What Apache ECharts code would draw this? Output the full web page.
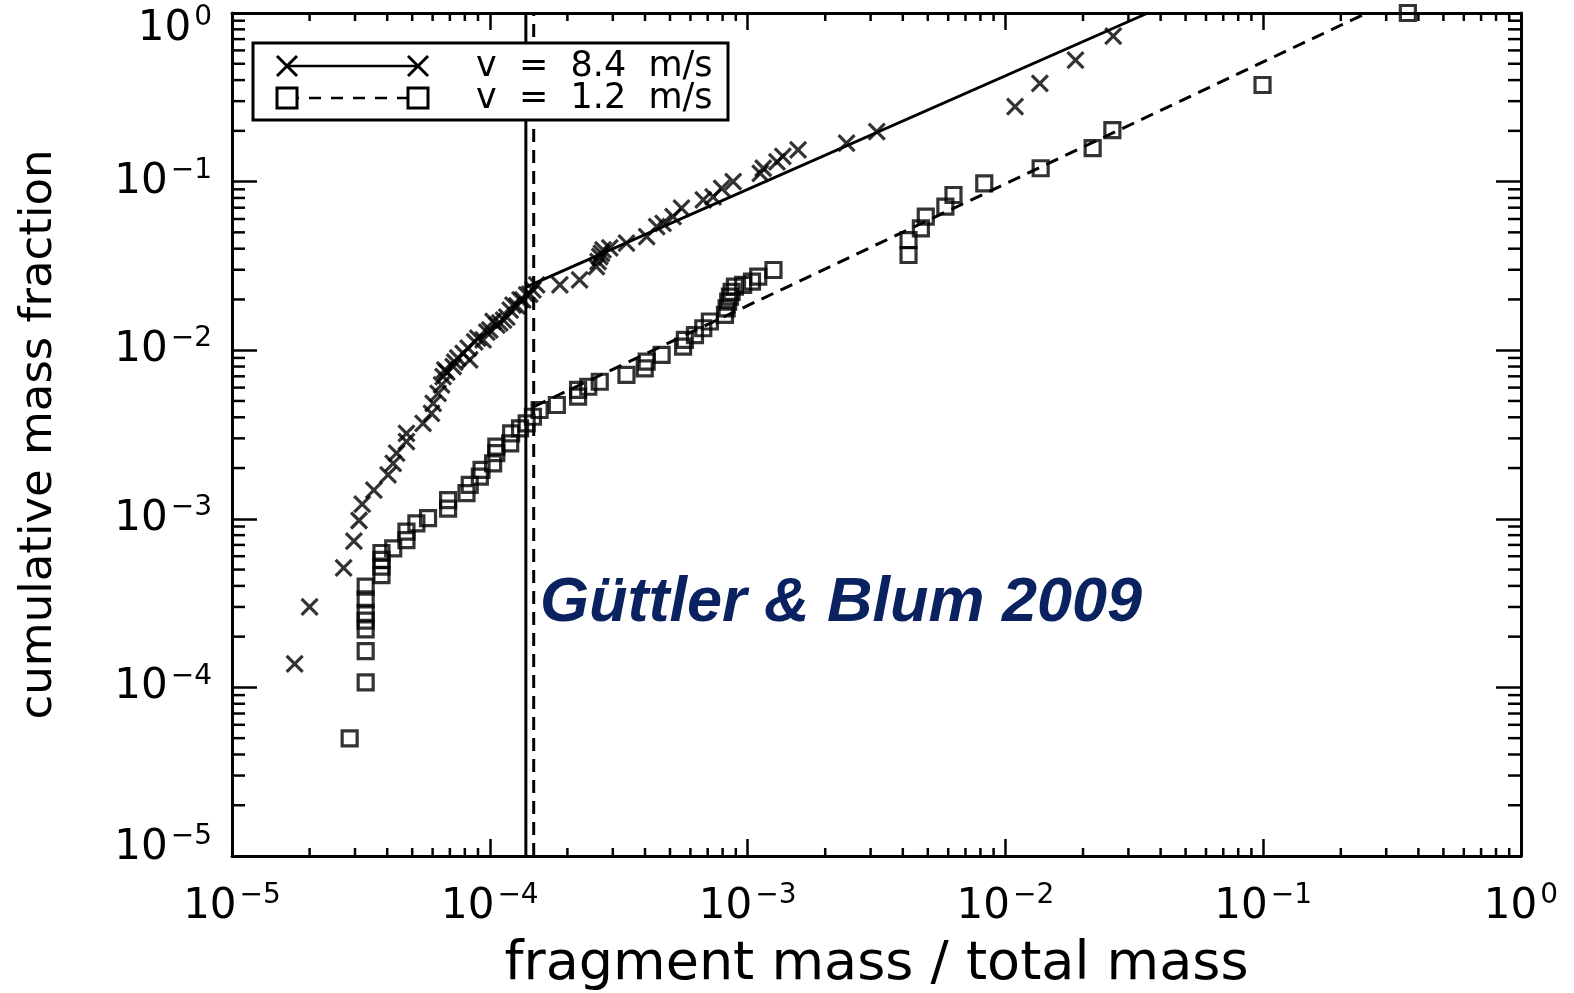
<!DOCTYPE html>
<html><head><meta charset="utf-8">
<script src="https://cdn.jsdelivr.net/npm/echarts@6/dist/echarts.min.js"></script>
<style>html,body{margin:0;padding:0;background:#fff}#chart{width:1574px;height:993px}</style>
</head><body><div id="chart"></div>
<script>
// ---- data ----
const v84Points = [
  [1.75e-5, 1.38e-4], [2.00e-5, 3.00e-4], [2.71e-5, 5.11e-4], [2.97e-5, 7.38e-4],
  [3.11e-5, 9.77e-4], [3.20e-5, 1.22e-3], [3.55e-5, 1.48e-3], [4.03e-5, 1.82e-3],
  [4.22e-5, 2.13e-3], [4.35e-5, 2.45e-3], [4.75e-5, 2.87e-3], [4.75e-5, 3.21e-3],
  [5.51e-5, 3.68e-3], [5.94e-5, 4.22e-3], [6.03e-5, 4.84e-3], [6.30e-5, 5.55e-3],
  [6.50e-5, 6.22e-3], [6.59e-5, 6.97e-3], [6.69e-5, 7.63e-3], [6.81e-5, 7.42e-3],
  [7.21e-5, 7.98e-3], [7.31e-5, 8.51e-3], [7.51e-5, 8.99e-3], [7.88e-5, 9.59e-3],
  [8.24e-5, 1.03e-2], [8.36e-5, 8.75e-3], [8.74e-5, 1.12e-2], [8.98e-5, 1.18e-2],
  [9.42e-5, 1.15e-2], [9.74e-5, 1.28e-2], [1.00e-4, 1.32e-2], [1.03e-4, 1.48e-2],
  [1.065e-4, 1.41e-2], [1.093e-4, 1.45e-2], [1.13e-4, 1.51e-2], [1.164e-4, 1.57e-2],
  [1.20e-4, 1.73e-2], [1.23e-4, 1.85e-2], [1.273e-4, 1.83e-2], [1.31e-4, 1.99e-2],
  [1.343e-4, 1.99e-2], [1.39e-4, 2.13e-2], [1.429e-4, 2.15e-2], [1.47e-4, 2.28e-2],
  [1.52e-4, 2.44e-2], [1.87e-4, 2.44e-2], [2.23e-4, 2.61e-2], [2.59e-4, 3.13e-2],
  [2.63e-4, 3.35e-2], [2.67e-4, 3.59e-2], [2.71e-4, 3.75e-2], [2.75e-4, 3.93e-2],
  [2.92e-4, 4.04e-2], [3.39e-4, 4.31e-2], [4.06e-4, 4.71e-2], [4.44e-4, 5.40e-2],
  [4.70e-4, 5.66e-2], [5.14e-4, 6.19e-2], [5.54e-4, 6.95e-2], [6.73e-4, 7.78e-2],
  [7.35e-4, 8.13e-2], [7.93e-4, 9.12e-2], [8.79e-4, 9.99e-2], [1.12e-3, 0.112],
  [1.15e-3, 0.120], [1.30e-3, 0.131], [1.37e-3, 0.141], [1.57e-3, 0.154],
  [2.42e-3, 0.169], [3.17e-3, 0.198], [1.09e-2, 0.278], [1.36e-2, 0.383],
  [1.87e-2, 0.526], [2.62e-2, 0.730]
];
const v12Points = [
  [2.86e-5, 4.99e-5], [3.30e-5, 1.07e-4], [3.30e-5, 1.64e-4], [3.30e-5, 2.21e-4],
  [3.30e-5, 2.49e-4], [3.30e-5, 2.77e-4], [3.30e-5, 3.33e-4], [3.30e-5, 3.96e-4],
  [3.80e-5, 4.64e-4], [3.80e-5, 5.20e-4], [3.80e-5, 5.70e-4], [3.80e-5, 6.27e-4],
  [4.22e-5, 6.68e-4], [4.75e-5, 7.48e-4], [4.75e-5, 8.39e-4], [5.19e-5, 9.40e-4],
  [5.76e-5, 1.01e-3], [6.89e-5, 1.15e-3], [6.89e-5, 1.29e-3], [8.12e-5, 1.42e-3],
  [8.36e-5, 1.59e-3], [9.15e-5, 1.78e-3], [9.29e-5, 1.95e-3], [1.03e-4, 2.13e-3],
  [1.06e-4, 2.45e-3], [1.06e-4, 2.68e-3], [1.20e-4, 2.80e-3], [1.21e-4, 3.21e-3],
  [1.31e-4, 3.44e-3], [1.39e-4, 3.68e-3], [1.47e-4, 4.03e-3], [1.56e-4, 4.42e-3],
  [1.82e-4, 4.73e-3], [2.20e-4, 5.30e-3], [2.20e-4, 5.81e-3], [2.41e-4, 6.07e-3],
  [2.67e-4, 6.50e-3], [3.39e-4, 7.13e-3], [3.99e-4, 7.81e-3], [4.06e-4, 8.55e-3],
  [4.64e-4, 9.37e-3], [5.62e-4, 1.05e-2], [5.71e-4, 1.15e-2], [6.25e-4, 1.23e-2],
  [6.73e-4, 1.35e-2], [7.14e-4, 1.48e-2], [8.17e-4, 1.62e-2], [8.29e-4, 1.77e-2],
  [8.41e-4, 1.94e-2], [8.54e-4, 2.08e-2], [8.67e-4, 2.22e-2], [8.93e-4, 2.38e-2],
  [9.61e-4, 2.44e-2], [1.04e-3, 2.55e-2], [1.10e-3, 2.73e-2], [1.26e-3, 2.99e-2],
  [4.21e-3, 3.67e-2], [4.21e-3, 4.50e-2], [4.70e-3, 5.28e-2], [4.91e-3, 6.19e-2],
  [5.85e-3, 7.10e-2], [6.29e-3, 8.33e-2], [8.28e-3, 9.77e-2], [1.37e-2, 0.120],
  [2.18e-2, 0.158], [2.60e-2, 0.202], [9.94e-2, 0.374], [0.364, 1.0]
];
const fit84Line = [[1.38e-4, 2.37e-2], [3.57e-2, 1.0]];
const fit12Line = [[1.48e-4, 4.62e-3], [0.252, 1.0]];
const breakV84 = 1.38e-4;
const breakV12 = 1.48e-4;
const axisMin = 1e-5;
const axisMax = 1;
const decadeExponents = [-5, -4, -3, -2, -1, 0];
const minorMultipliers = [2, 3, 4, 5, 6, 7, 8, 9];
const legendLabels = ['v = 8.4 m/s', 'v = 1.2 m/s'];
const xTitle = 'fragment mass / total mass';
const yTitle = 'cumulative mass fraction';
const annotationText = 'Güttler & Blum 2009';

// ---- derived ----
const minorTicks = decadeExponents.slice(0, -1).flatMap(e => minorMultipliers.map(m => m * Math.pow(10, e)));
const FONT = 'DejaVu Sans';
const crossPath = 'path://M0,0L10,10M10,0L0,10';

function expText(e) { return e < 0 ? '\u2212' + (-e) : String(e); }
function xLabel(v) {
  const e = Math.round(Math.log10(v));
  return '{b|10}{e|' + expText(e) + '}';
}
// y labels at the plot ends are pulled inward (as in the original)
function yLabel(v) {
  const e = Math.round(Math.log10(v));
  const top = decadeExponents[decadeExponents.length - 1], bottom = decadeExponents[0];
  if (e === top) return '{bt|10}{et|' + expText(e) + '}';
  if (e === bottom) return '{bb|10}{eb|' + expText(e) + '}';
  return '{b|10}{e|' + expText(e) + '}';
}
const baseB = { fontFamily: FONT, fontSize: 42, lineHeight: 50, color: '#000' };
const baseE = { fontFamily: FONT, fontSize: 28, lineHeight: 34, color: '#000' };
const labelRich = {
  b: Object.assign({}, baseB),
  e: Object.assign({}, baseE, { verticalAlign: 'top', padding: [0, 0, 0, 3] }),
  bt: Object.assign({}, baseB, { verticalAlign: 'top', padding: [20, 0, 0, 0] }),
  et: Object.assign({}, baseE, { verticalAlign: 'top', padding: [16, 0, 0, 3] }),
  bb: Object.assign({}, baseB, { verticalAlign: 'bottom', padding: [0, 0, 12, 0] }),
  eb: Object.assign({}, baseE, { verticalAlign: 'bottom', padding: [0, 0, 30, 3] })
};

function tickSeries(isX) {
  return {
    type: 'custom', xAxisIndex: 0, yAxisIndex: 0, silent: true, clip: false, z: 5,
    data: minorTicks.map(v => isX ? [v, axisMin] : [axisMin, v]),
    renderItem: function (params, api) {
      const st = { stroke: '#000', lineWidth: 2.5 };
      if (isX) {
        const v = api.value(0);
        const b = api.coord([v, axisMin]), t = api.coord([v, axisMax]);
        return { type: 'group', children: [
          { type: 'line', shape: { x1: b[0], y1: b[1], x2: b[0], y2: b[1] - 8 }, style: st },
          { type: 'line', shape: { x1: t[0], y1: t[1], x2: t[0], y2: t[1] + 8 }, style: st }
        ] };
      } else {
        const v = api.value(1);
        const l = api.coord([axisMin, v]), r = api.coord([axisMax, v]);
        return { type: 'group', children: [
          { type: 'line', shape: { x1: l[0], y1: l[1], x2: l[0] + 13, y2: l[1] }, style: st },
          { type: 'line', shape: { x1: r[0], y1: r[1], x2: r[0] - 13, y2: r[1] }, style: st }
        ] };
      }
    }
  };
}

const axisLineStyle = { show: true, onZero: false, lineStyle: { color: '#000', width: 3 } };
function xAx(pos) {
  return {
    type: 'log', logBase: 10, min: axisMin, max: axisMax, position: pos, splitNumber: 5,
    axisLine: axisLineStyle,
    axisTick: { show: true, inside: true, length: 17, lineStyle: { color: '#000', width: 2.5 } },
    minorTick: { show: false }, splitLine: { show: false },
    axisLabel: pos === 'bottom'
      ? { show: true, margin: 26, formatter: xLabel, rich: labelRich }
      : { show: false },
    name: pos === 'bottom' ? xTitle : '',
    nameLocation: 'middle', nameGap: 82,
    nameTextStyle: { fontFamily: FONT, fontSize: 54, color: '#000' }
  };
}
function yAx(pos) {
  return {
    type: 'log', logBase: 10, min: axisMin, max: axisMax, position: pos, splitNumber: 5,
    axisLine: axisLineStyle,
    axisTick: { show: true, inside: true, length: 25, lineStyle: { color: '#000', width: 2.5 } },
    minorTick: { show: false }, splitLine: { show: false },
    axisLabel: pos === 'left'
      ? { show: true, margin: 20, formatter: yLabel, rich: labelRich }
      : { show: false },
    name: pos === 'left' ? yTitle : '',
    nameLocation: 'middle', nameGap: 170,
    nameTextStyle: { fontFamily: FONT, fontSize: 45, color: '#000' }
  };
}

const chart = echarts.init(document.getElementById('chart'));
chart.setOption({
  animation: false,
  backgroundColor: '#fff',
  grid: { left: 232, top: 13, width: 1289, height: 843, containLabel: false, outerBoundsMode: 'none' },
  xAxis: [xAx('bottom'), xAx('top')],
  yAxis: [yAx('left'), yAx('right')],
  series: [
    tickSeries(true), tickSeries(false),
    { type: 'line', data: [[breakV84, axisMin], [breakV84, axisMax]], showSymbol: false, silent: true,
      lineStyle: { color: '#000', width: 3 }, z: 3 },
    { type: 'line', data: [[breakV12, axisMin], [breakV12, axisMax]], showSymbol: false, silent: true,
      lineStyle: { color: '#000', width: 3, type: [13, 8] }, z: 3 },
    { type: 'line', data: fit84Line, showSymbol: false, silent: true,
      lineStyle: { color: '#000', width: 3 }, z: 3 },
    { type: 'line', data: fit12Line, showSymbol: false, silent: true,
      lineStyle: { color: '#000', width: 3, type: [13, 8] }, z: 3 },
    { type: 'scatter', name: legendLabels[0], data: v84Points, symbol: crossPath, symbolSize: 16,
      itemStyle: { color: 'transparent', borderColor: '#000', borderWidth: 3.2 }, z: 4, silent: true },
    { type: 'scatter', name: legendLabels[1], data: v12Points, symbol: 'rect', symbolSize: 15,
      itemStyle: { color: 'transparent', borderColor: '#000', borderWidth: 3.2 }, z: 4, silent: true }
  ],
  graphic: [
    { type: 'rect', z: 100, shape: { x: 253, y: 43, width: 475, height: 77 },
      style: { fill: '#fff', stroke: '#000', lineWidth: 3 } },
    { type: 'line', z: 101, shape: { x1: 287, y1: 66, x2: 418, y2: 66 }, style: { stroke: '#000', lineWidth: 2.5 } },
    { type: 'line', z: 101, shape: { x1: 277, y1: 56, x2: 297, y2: 76 }, style: { stroke: '#000', lineWidth: 3 } },
    { type: 'line', z: 101, shape: { x1: 297, y1: 56, x2: 277, y2: 76 }, style: { stroke: '#000', lineWidth: 3 } },
    { type: 'line', z: 101, shape: { x1: 408, y1: 56, x2: 428, y2: 76 }, style: { stroke: '#000', lineWidth: 3 } },
    { type: 'line', z: 101, shape: { x1: 428, y1: 56, x2: 408, y2: 76 }, style: { stroke: '#000', lineWidth: 3 } },
    { type: 'line', z: 101, shape: { x1: 287, y1: 98, x2: 418, y2: 98 }, style: { stroke: '#000', lineWidth: 2.5, lineDash: [12, 10] } },
    { type: 'rect', z: 102, shape: { x: 277, y: 88, width: 20, height: 20 }, style: { fill: '#fff', stroke: '#000', lineWidth: 3 } },
    { type: 'rect', z: 102, shape: { x: 408, y: 88, width: 20, height: 20 }, style: { fill: '#fff', stroke: '#000', lineWidth: 3 } },
    { type: 'text', z: 101, x: 476, y: 67, style: { text: legendLabels[0].replace(/ /g, '  '), fontFamily: FONT, fontSize: 35, fill: '#000', verticalAlign: 'middle' } },
    { type: 'text', z: 101, x: 476, y: 99, style: { text: legendLabels[1].replace(/ /g, '  '), fontFamily: FONT, fontSize: 35, fill: '#000', verticalAlign: 'middle' } },
    { type: 'text', z: 101, x: 540, y: 604, style: { text: annotationText, fontFamily: 'Liberation Sans', fontWeight: 'bold', fontStyle: 'italic', fontSize: 63, fill: '#0a2360', verticalAlign: 'middle' } }
  ]
});
</script>
</body></html>
